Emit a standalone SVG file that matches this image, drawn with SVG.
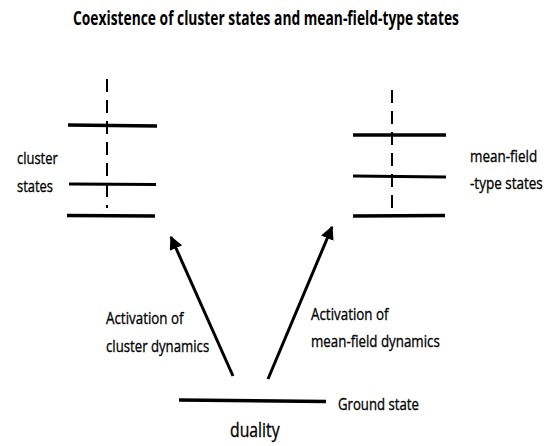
<svg xmlns="http://www.w3.org/2000/svg" width="550" height="446" viewBox="0 0 550 446">
<style>
text{font-family:"Open Sans","Liberation Sans",sans-serif;fill:#000}
.lbl{font-size:17px;stroke:#000;stroke-width:0.35}
.lvl{stroke:#000;stroke-width:3.5;fill:none}
.lvl2{stroke:#000;stroke-width:2.8;fill:none}
.dash{stroke:#000;stroke-width:2;stroke-dasharray:13 8;fill:none}
.arr{stroke:#000;stroke-width:3;fill:none;marker-end:url(#ah)}
</style>
<defs>
<marker id="ah" viewBox="0 0 10 10" refX="9" refY="5" markerWidth="4.5" markerHeight="4.5" orient="auto" markerUnits="strokeWidth">
<path d="M0,0 L10,5 L0,10 z" fill="#000"/>
</marker>
</defs>
<rect width="550" height="446" fill="#fff"/>
<text id="title" transform="translate(73,25) scale(0.72,1)" font-size="19" font-weight="bold" textLength="536" lengthAdjust="spacingAndGlyphs">Coexistence of cluster states and mean-field-type states</text>
<g id="cluster-states">
<line class="dash" x1="107" y1="79" x2="107" y2="208"/>
<line class="lvl" x1="68" y1="125" x2="157" y2="126"/>
<line class="lvl2" x1="69" y1="184" x2="156" y2="184.5"/>
<line class="lvl" x1="67" y1="215.5" x2="155" y2="216"/>
<text class="lbl" transform="translate(17,164) scale(0.8,1)" textLength="51" lengthAdjust="spacingAndGlyphs">cluster</text>
<text class="lbl" transform="translate(17,192) scale(0.8,1)" textLength="45" lengthAdjust="spacingAndGlyphs">states</text>
</g>
<g id="meanfield-states">
<line class="dash" x1="392" y1="90" x2="392" y2="208" stroke-dasharray="10 11"/>
<line class="lvl" x1="353" y1="135" x2="446" y2="135"/>
<line class="lvl2" x1="353" y1="176" x2="446" y2="177"/>
<line class="lvl" x1="353" y1="216" x2="445" y2="215.5"/>
<text class="lbl" transform="translate(470,162) scale(0.8,1)" textLength="84" lengthAdjust="spacingAndGlyphs">mean-field</text>
<text class="lbl" transform="translate(470,189) scale(0.8,1)" textLength="91" lengthAdjust="spacingAndGlyphs">-type states</text>
</g>
<g id="ground-state">
<line class="lvl" x1="179" y1="400" x2="326" y2="401.5"/>
<text class="lbl" transform="translate(338,410) scale(0.8,1)" textLength="101" lengthAdjust="spacingAndGlyphs">Ground state</text>
<text transform="translate(230,437) scale(0.8,1)" font-size="20" stroke="#000" stroke-width="0.35" textLength="62" lengthAdjust="spacingAndGlyphs">duality</text>
</g>
<g id="connectors">
<line class="arr" x1="233" y1="376" x2="171" y2="237"/>
<line class="arr" x1="268" y1="379" x2="332" y2="227"/>
</g>
<g id="labels">
<text class="lbl" transform="translate(106,324) scale(0.8,1)" textLength="97" lengthAdjust="spacingAndGlyphs">Activation of</text>
<text class="lbl" transform="translate(106,352) scale(0.8,1)" textLength="129" lengthAdjust="spacingAndGlyphs">cluster dynamics</text>
<text class="lbl" transform="translate(311,320) scale(0.8,1)" textLength="97" lengthAdjust="spacingAndGlyphs">Activation of</text>
<text class="lbl" transform="translate(311,347) scale(0.8,1)" textLength="161" lengthAdjust="spacingAndGlyphs">mean-field dynamics</text>
</g>
</svg>
